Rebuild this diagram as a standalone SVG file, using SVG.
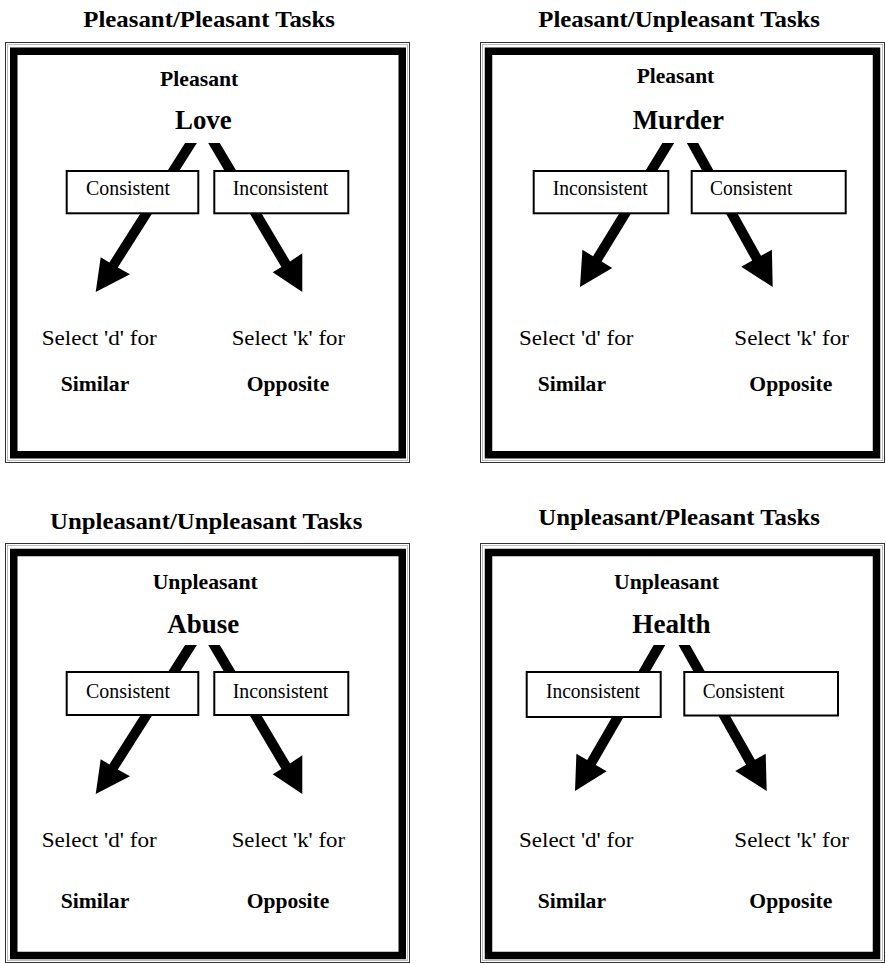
<svg xmlns="http://www.w3.org/2000/svg" width="886" height="963" viewBox="0 0 886 963">
<style>
  .bg{fill:#fff}
  .outer{fill:none;stroke:#333;stroke-width:1}
  .inner{fill:none;stroke:#bbb;stroke-width:1}
  .thick{fill:none;stroke:#000;stroke-width:7.5}
  .box{fill:#fff;stroke:#000;stroke-width:2}
  .arrow{fill:#000;stroke:none}
  text{font-family:"Liberation Serif","Times New Roman",serif;fill:#000}
  .title{font-size:23px;font-weight:bold}
  .cat{font-size:22px;font-weight:bold}
  .word{font-size:27px;font-weight:bold}
  .lbl{font-size:20px}
  .sel{font-size:21px}
  .ans{font-size:22px;font-weight:bold}
</style>
<rect class="bg" x="0" y="0" width="886" height="963"/>

<!-- Panel frames and titles -->
<g id="panel-pp">
  <text class="title" x="83.3" y="26.7" textLength="251.7" lengthAdjust="spacingAndGlyphs">Pleasant/Pleasant Tasks</text>
  <rect class="outer" x="5.5" y="42.5" width="404" height="420"/>
  <rect class="inner" x="7.5" y="44.5" width="400" height="416"/>
  <rect class="thick" x="13.75" y="51.25" width="388.5" height="403.5"/>
</g>
<g id="panel-pu">
  <text class="title" x="538.3" y="26.7" textLength="281.7" lengthAdjust="spacingAndGlyphs">Pleasant/Unpleasant Tasks</text>
  <rect class="outer" x="480.5" y="42.5" width="404" height="420"/>
  <rect class="inner" x="482.5" y="44.5" width="400" height="416"/>
  <rect class="thick" x="488.5" y="51.25" width="388" height="403.5"/>
</g>
<g id="panel-uu">
  <text class="title" x="50" y="529.3" textLength="312.3" lengthAdjust="spacingAndGlyphs">Unpleasant/Unpleasant Tasks</text>
  <rect class="outer" x="5.5" y="543.5" width="404" height="419"/>
  <rect class="inner" x="7.5" y="545.5" width="400" height="415"/>
  <rect class="thick" x="13.75" y="552.5" width="388.5" height="403"/>
</g>
<g id="panel-up">
  <text class="title" x="538.3" y="525" textLength="281.7" lengthAdjust="spacingAndGlyphs">Unpleasant/Pleasant Tasks</text>
  <rect class="outer" x="480.5" y="543.5" width="404" height="419"/>
  <rect class="inner" x="482.5" y="545.5" width="400" height="415"/>
  <rect class="thick" x="488.5" y="552.5" width="388" height="403"/>
</g>

<!-- Connectors -->
<g id="connectors">
  <polygon class="arrow" points="185.1,143 196.9,143 117.8,267.6 130,274.3 95.7,292 100.7,257.3 109.4,262.4"/>
  <polygon class="arrow" points="208.2,143 219.8,143 290,261.4 302.3,253.3 302.3,292 272.7,272.3 281.4,267.1"/>
  <polygon class="arrow" points="662.4,143 674.2,143 601.6,261.5 612.2,268.1 580,287 582.4,249.7 593,256.3"/>
  <polygon class="arrow" points="686.8,143 698.2,143 761,255.8 771.9,249.7 772.7,287 741.3,266.7 752.2,260.6"/>
  <g transform="translate(0,502)">
    <polygon class="arrow" points="185.1,143 196.9,143 117.8,267.6 130,274.3 95.7,292 100.7,257.3 109.4,262.4"/>
    <polygon class="arrow" points="208.2,143 219.8,143 290,261.4 302.3,253.3 302.3,292 272.7,272.3 281.4,267.1"/>
  </g>
  <polygon class="arrow" points="653.7,645 665.3,645 595.8,765 606.6,771.3 575,791 576.4,753.7 587.2,760"/>
  <polygon class="arrow" points="678.5,645 689.9,645 754.9,759.8 765.7,753.7 766.7,791 735.3,770.9 746.1,764.8"/>
</g>

<!-- Panel 1 nodes -->
<g id="pp-category"><text class="cat" x="160" y="86" textLength="78.3" lengthAdjust="spacingAndGlyphs">Pleasant</text></g>
<g id="pp-word"><text class="word" x="175" y="129.3" textLength="56.7" lengthAdjust="spacingAndGlyphs">Love</text></g>
<g id="pp-left-box"><rect class="box" x="66.7" y="171" width="131.6" height="42.3"/><text class="lbl" x="86" y="195" textLength="84" lengthAdjust="spacingAndGlyphs">Consistent</text></g>
<g id="pp-right-box"><rect class="box" x="214.3" y="171" width="134" height="42.3"/><text class="lbl" x="232.7" y="195" textLength="95.6" lengthAdjust="spacingAndGlyphs">Inconsistent</text></g>
<g id="pp-left-target"><text class="sel" x="41.7" y="345" textLength="115" lengthAdjust="spacingAndGlyphs">Select 'd' for</text><text class="ans" x="60.7" y="390.7" textLength="68.6" lengthAdjust="spacingAndGlyphs">Similar</text></g>
<g id="pp-right-target"><text class="sel" x="231.7" y="345" textLength="113.3" lengthAdjust="spacingAndGlyphs">Select 'k' for</text><text class="ans" x="246.7" y="390.7" textLength="82.6" lengthAdjust="spacingAndGlyphs">Opposite</text></g>

<!-- Panel 2 nodes -->
<g id="pu-category"><text class="cat" x="636.7" y="83" textLength="77.6" lengthAdjust="spacingAndGlyphs">Pleasant</text></g>
<g id="pu-word"><text class="word" x="632.7" y="129.3" textLength="91.3" lengthAdjust="spacingAndGlyphs">Murder</text></g>
<g id="pu-left-box"><rect class="box" x="533.7" y="171" width="134.6" height="42.3"/><text class="lbl" x="552.7" y="195" textLength="95" lengthAdjust="spacingAndGlyphs">Inconsistent</text></g>
<g id="pu-right-box"><rect class="box" x="691.7" y="171" width="154" height="42.3"/><text class="lbl" x="710" y="195" textLength="82.3" lengthAdjust="spacingAndGlyphs">Consistent</text></g>
<g id="pu-left-target"><text class="sel" x="519" y="345" textLength="114.3" lengthAdjust="spacingAndGlyphs">Select 'd' for</text><text class="ans" x="537.7" y="390.7" textLength="68.3" lengthAdjust="spacingAndGlyphs">Similar</text></g>
<g id="pu-right-target"><text class="sel" x="734.3" y="345" textLength="114.7" lengthAdjust="spacingAndGlyphs">Select 'k' for</text><text class="ans" x="749.3" y="390.7" textLength="83" lengthAdjust="spacingAndGlyphs">Opposite</text></g>

<!-- Panel 3 nodes -->
<g id="uu-category"><text class="cat" x="152.7" y="589.3" textLength="105" lengthAdjust="spacingAndGlyphs">Unpleasant</text></g>
<g id="uu-word"><text class="word" x="167.3" y="633.3" textLength="72" lengthAdjust="spacingAndGlyphs">Abuse</text></g>
<g id="uu-left-box"><rect class="box" x="66.7" y="672" width="131.6" height="43"/><text class="lbl" x="86" y="697.5" textLength="84" lengthAdjust="spacingAndGlyphs">Consistent</text></g>
<g id="uu-right-box"><rect class="box" x="214.3" y="672" width="134" height="43"/><text class="lbl" x="232.7" y="697.5" textLength="95.6" lengthAdjust="spacingAndGlyphs">Inconsistent</text></g>
<g id="uu-left-target"><text class="sel" x="41.7" y="846.7" textLength="115" lengthAdjust="spacingAndGlyphs">Select 'd' for</text><text class="ans" x="60.7" y="908.3" textLength="68.6" lengthAdjust="spacingAndGlyphs">Similar</text></g>
<g id="uu-right-target"><text class="sel" x="231.7" y="846.7" textLength="113.3" lengthAdjust="spacingAndGlyphs">Select 'k' for</text><text class="ans" x="246.7" y="908.3" textLength="82.6" lengthAdjust="spacingAndGlyphs">Opposite</text></g>

<!-- Panel 4 nodes -->
<g id="up-category"><text class="cat" x="614" y="589.3" textLength="105" lengthAdjust="spacingAndGlyphs">Unpleasant</text></g>
<g id="up-word"><text class="word" x="632.3" y="633.3" textLength="78.4" lengthAdjust="spacingAndGlyphs">Health</text></g>
<g id="up-left-box"><rect class="box" x="526.7" y="672" width="134" height="45"/><text class="lbl" x="546" y="697.5" textLength="94" lengthAdjust="spacingAndGlyphs">Inconsistent</text></g>
<g id="up-right-box"><rect class="box" x="684.3" y="672" width="153.7" height="43.5"/><text class="lbl" x="702.7" y="697.5" textLength="81.6" lengthAdjust="spacingAndGlyphs">Consistent</text></g>
<g id="up-left-target"><text class="sel" x="519" y="846.7" textLength="114.3" lengthAdjust="spacingAndGlyphs">Select 'd' for</text><text class="ans" x="537.7" y="908.3" textLength="68.3" lengthAdjust="spacingAndGlyphs">Similar</text></g>
<g id="up-right-target"><text class="sel" x="734.3" y="846.7" textLength="114.7" lengthAdjust="spacingAndGlyphs">Select 'k' for</text><text class="ans" x="749.3" y="908.3" textLength="83" lengthAdjust="spacingAndGlyphs">Opposite</text></g>
</svg>
